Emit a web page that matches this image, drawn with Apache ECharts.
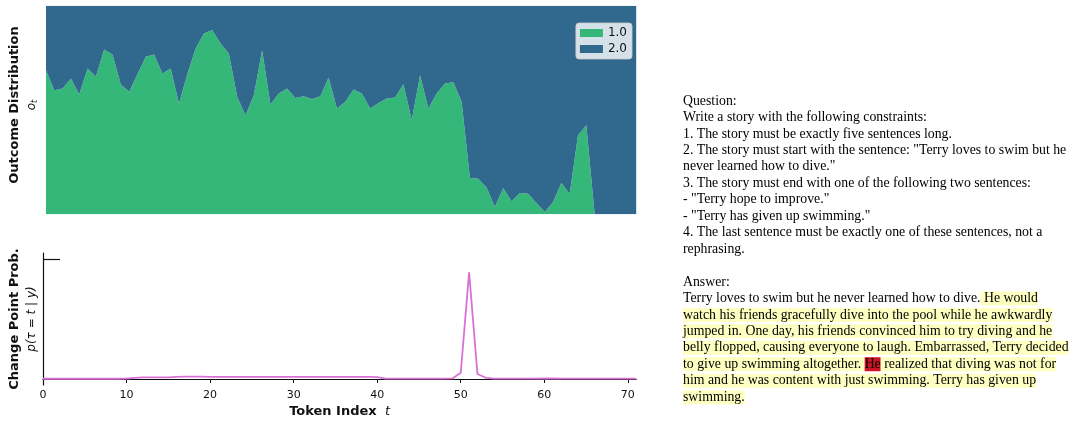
<!DOCTYPE html>
<html>
<head>
<meta charset="utf-8">
<script src="https://cdn.jsdelivr.net/npm/echarts@6/dist/echarts.min.js"></script>
<style>
  html, body { margin: 0; padding: 0; background: #fff; }
  #chart { width: 1073px; height: 422px; }
</style>
</head>
<body>
<div id="chart"></div>
<script>
// token positions 0..71
const tokenIndex = [
  0, 1, 2, 3, 4, 5, 6, 7, 8, 9, 10, 11, 12, 13, 14, 15, 16, 17, 18, 19,
  20, 21, 22, 23, 24, 25, 26, 27, 28, 29, 30, 31, 32, 33, 34, 35, 36, 37, 38, 39,
  40, 41, 42, 43, 44, 45, 46, 47, 48, 49, 50, 51, 52, 53, 54, 55, 56, 57, 58, 59,
  60, 61, 62, 63, 64, 65, 66, 67, 68, 69, 70, 71
];
// share of outcome "1.0" at each token index
const outcome1 = [
  0.69, 0.595, 0.603, 0.651, 0.574, 0.699, 0.659, 0.79, 0.766, 0.622,
  0.587, 0.671, 0.755, 0.766, 0.675, 0.699, 0.531, 0.671, 0.795, 0.867,
  0.883, 0.819, 0.771, 0.563, 0.475, 0.571, 0.787, 0.526, 0.579, 0.603,
  0.558, 0.566, 0.553, 0.566, 0.656, 0.507, 0.539, 0.598, 0.579, 0.507,
  0.534, 0.555, 0.56, 0.624, 0.451, 0.667, 0.507, 0.579, 0.627, 0.633,
  0.539, 0.174, 0.171, 0.128, 0.035, 0.126, 0.062, 0.102, 0.099, 0.054,
  0.011, 0.059, 0.15, 0.099, 0.379, 0.427, 0, 0, 0, 0,
  0, 0
];
// share of outcome "2.0"
const outcome2 = [
  0.31, 0.405, 0.397, 0.349, 0.426, 0.301, 0.341, 0.21, 0.234, 0.378,
  0.413, 0.329, 0.245, 0.234, 0.325, 0.301, 0.469, 0.329, 0.205, 0.133,
  0.117, 0.181, 0.229, 0.437, 0.525, 0.429, 0.213, 0.474, 0.421, 0.397,
  0.442, 0.434, 0.447, 0.434, 0.344, 0.493, 0.461, 0.402, 0.421, 0.493,
  0.466, 0.445, 0.44, 0.376, 0.549, 0.333, 0.493, 0.421, 0.373, 0.367,
  0.461, 0.826, 0.829, 0.872, 0.965, 0.874, 0.938, 0.898, 0.901, 0.946,
  0.989, 0.941, 0.85, 0.901, 0.621, 0.573, 1, 1, 1, 1,
  1, 1
];
// p(tau = t | y)
const changePointProb = [
  0.002, 0.002, 0.002, 0.002, 0.002, 0.002, 0.002, 0.002, 0.002, 0.002,
  0.003, 0.01, 0.013, 0.013, 0.013, 0.014, 0.018, 0.019, 0.019, 0.019,
  0.018, 0.018, 0.018, 0.017, 0.017, 0.017, 0.017, 0.017, 0.017, 0.017,
  0.017, 0.017, 0.017, 0.017, 0.017, 0.018, 0.017, 0.017, 0.017, 0.017,
  0.015, 0.003, 0.003, 0.003, 0.003, 0.003, 0.003, 0.003, 0.003, 0.005,
  0.052, 0.89, 0.042, 0.01, 0.003, 0.003, 0.003, 0.003, 0.003, 0.003,
  0.004, 0.004, 0.003, 0.003, 0.003, 0.003, 0.003, 0.003, 0.003, 0.003,
  0.003, 0.003
];
const outcomeNames = ['1.0', '2.0'];

const questionLines = [
  'Question:',
  'Write a story with the following constraints:',
  '1. The story must be exactly five sentences long.',
  '2. The story must start with the sentence: "Terry loves to swim but he',
  'never learned how to dive."',
  '3. The story must end with one of the following two sentences:',
  '- "Terry hope to improve."',
  '- "Terry has given up swimming."',
  '4. The last sentence must be exactly one of these sentences, not a',
  'rephrasing.'
];
// answer lines as [style, text] pieces; h = highlighted, r = change point token
const answerLines = [
  [['', 'Terry loves to swim but he never learned how to dive.'], ['h', ' He would']],
  [['h', 'watch his friends gracefully dive into the pool while he awkwardly']],
  [['h', 'jumped in. One day, his friends convinced him to try diving and he']],
  [['h', 'belly flopped, causing everyone to laugh. Embarrassed, Terry decided']],
  [['h', 'to give up swimming altogether. '], ['r', 'He'], ['h', ' realized that diving was not for']],
  [['h', 'him and he was content with just swimming. Terry has given up']],
  [['h', 'swimming.']]
];

const GREEN = '#35b779';
const BLUE = '#31688e';
const PINK = '#da70d6';
const INK = '#111';
const SANS = 'DejaVu Sans';
const SERIF = 'Liberation Serif';
const SERIF_SIZE = 13.8;
const LINE_H = 16.45;

const chart = echarts.init(document.getElementById('chart'));

const panelText = [
  ...questionLines,
  '',
  'Answer:',
  ...answerLines.map(parts => parts.map(([k, s]) => k ? `{${k}|${s}}` : s).join(''))
].join('\n');

const serifBase = { fontFamily: SERIF, fontSize: SERIF_SIZE, lineHeight: LINE_H, color: '#000' };

const option = {
  animation: false,
  grid: [
    { left: 41.7, top: 5.7, width: 594.5, height: 208.6 },
    { left: 41.7, top: 253, width: 594.5, height: 132 }
  ],
  xAxis: [
    { gridIndex: 0, type: 'category', data: tokenIndex, boundaryGap: false, show: false },
    {
      gridIndex: 1, type: 'value', min: 0, max: 71, interval: 10,
      name: '{b|Token Index}{i|  t}',
      nameLocation: 'middle', nameGap: 20,
      nameTextStyle: {
        rich: {
          b: { fontFamily: SANS, fontSize: 13, fontWeight: 'bold', color: INK },
          i: { fontFamily: SANS, fontSize: 13, fontStyle: 'italic', color: INK }
        }
      },
      axisLine: { lineStyle: { color: INK, width: 1.2 } },
      axisTick: { length: 4, lineStyle: { color: INK } },
      axisLabel: { fontFamily: SANS, fontSize: 11, color: INK, margin: 5 },
      splitLine: { show: false }
    }
  ],
  yAxis: [
    {
      gridIndex: 0, type: 'value', min: 0, max: 1,
      name: '{b|Outcome Distribution}\n{i|o}{s|t}',
      nameLocation: 'middle', nameRotate: 90, nameGap: 6,
      nameTextStyle: {
        padding: [0, 0, 0, 10],
        rich: {
          b: { fontFamily: SANS, fontSize: 13, fontWeight: 'bold', color: INK, lineHeight: 17 },
          i: { fontFamily: SANS, fontSize: 12, fontStyle: 'italic', color: INK, lineHeight: 17 },
          s: { fontFamily: SANS, fontSize: 8, fontStyle: 'italic', color: INK, lineHeight: 17, padding: [6, 0, 0, 0] }
        }
      },
      axisLine: { show: false }, axisTick: { show: false },
      axisLabel: { show: false }, splitLine: { show: false }
    },
    {
      gridIndex: 1, type: 'value', min: -0.05, max: 1.05,
      name: '{b|Change Point Prob.}\n{i|p(τ = t | y)}',
      nameLocation: 'middle', nameRotate: 90, nameGap: 3,
      nameTextStyle: {
        rich: {
          b: { fontFamily: SANS, fontSize: 13, fontWeight: 'bold', color: INK, lineHeight: 17 },
          i: { fontFamily: SANS, fontSize: 12, fontStyle: 'italic', color: INK, lineHeight: 17 }
        }
      },
      axisLine: { show: true, lineStyle: { color: INK, width: 1.2 } },
      axisTick: { show: true, inside: true, length: 17, customValues: [1], lineStyle: { color: INK, width: 1.2 } },
      axisLabel: { show: false },
      splitLine: { show: false }
    }
  ],
  legend: {
    data: outcomeNames,
    orient: 'vertical',
    right: 1073 - 632,
    top: 23,
    icon: 'rect',
    itemWidth: 23,
    itemHeight: 8,
    itemGap: 4,
    padding: [4, 5, 4, 4],
    backgroundColor: 'rgba(255,255,255,0.8)',
    borderColor: 'rgba(204,204,204,0.8)',
    borderWidth: 1,
    borderRadius: 3,
    textStyle: { fontFamily: SANS, fontSize: 12, color: INK }
  },
  graphic: [{
    type: 'text',
    left: 683,
    top: 92.8,
    style: {
      text: panelText,
      font: SERIF_SIZE + 'px "Liberation Serif"',
      lineHeight: LINE_H,
      fill: '#000',
      rich: {
        h: { ...serifBase, backgroundColor: '#ffffc2' },
        r: { ...serifBase, backgroundColor: '#cc1424' }
      }
    }
  }],
  series: [
    {
      name: outcomeNames[0], type: 'line', xAxisIndex: 0, yAxisIndex: 0, stack: 'outcome',
      data: outcome1,
      symbol: 'none', silent: true,
      lineStyle: { width: 0, color: GREEN },
      itemStyle: { color: GREEN },
      areaStyle: { color: GREEN, opacity: 1 }
    },
    {
      name: outcomeNames[1], type: 'line', xAxisIndex: 0, yAxisIndex: 0, stack: 'outcome',
      data: outcome2,
      symbol: 'none', silent: true,
      lineStyle: { width: 0, color: BLUE },
      itemStyle: { color: BLUE },
      areaStyle: { color: BLUE, opacity: 1 }
    },
    {
      name: 'change point', type: 'line', xAxisIndex: 1, yAxisIndex: 1,
      data: changePointProb.map((v, t) => [t, v]),
      symbol: 'none', silent: true,
      lineStyle: { width: 1.8, color: PINK }
    }
  ]
};

chart.setOption(option);
</script>
</body>
</html>
